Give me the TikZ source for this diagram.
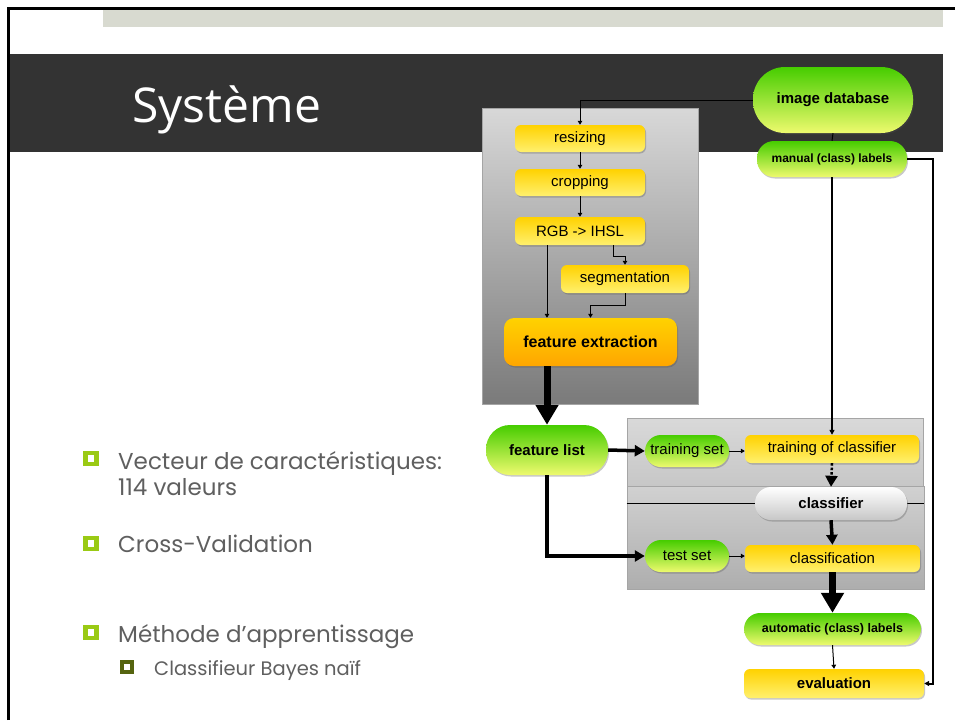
\documentclass[tikz,border=0pt]{standalone}
\usepackage{fontspec}
\setmainfont{Liberation Sans}
\newfontfamily\titrefont{Open Sans}
\newfontfamily\pucefont{Poppins}
\usetikzlibrary{arrows.meta,calc,shadows}
\definecolor{BandeSombre}{RGB}{51,51,51}
\definecolor{BandeClaire}{RGB}{216,218,208}
\definecolor{VertHaut}{RGB}{70,205,0}
\definecolor{VertBas}{RGB}{238,250,110}
\definecolor{JauneHaut}{RGB}{255,210,0}
\definecolor{JauneBas}{RGB}{255,240,110}
\definecolor{OrangeBas}{RGB}{255,166,0}
\definecolor{GrisHaut}{RGB}{216,216,216}
\definecolor{GrisBas}{RGB}{122,122,122}
\definecolor{GrisBord}{RGB}{165,165,165}
\definecolor{GrisTexte}{RGB}{95,95,95}
\definecolor{PuceVerte}{RGB}{154,202,20}
\definecolor{PuceOlive}{RGB}{85,100,15}
\tikzset{
  ombre/.style={drop shadow={shadow xshift=1pt, shadow yshift=-1.5pt, opacity=.3, fill=black!70}},
  etape/.style={top color=JauneHaut, bottom color=JauneBas, rounded corners=6pt, ombre,
                align=center, font=\fontsize{15}{17}\selectfont, inner sep=2pt},
  extraction/.style={top color=JauneHaut, bottom color=OrangeBas, rounded corners=10pt, ombre,
                align=center, font=\bfseries\fontsize{16}{18}\selectfont, inner sep=2pt},
  donnee/.style={top color=VertHaut, bottom color=VertBas, rounded corners=16pt, ombre,
                align=center, font=\fontsize{15}{17}\selectfont, inner sep=2pt},
  modele/.style={top color=white, bottom color=black!22, rounded corners=16pt, ombre,
                align=center, font=\bfseries\fontsize{15}{17}\selectfont, inner sep=2pt},
  panneau/.style={draw=GrisBord, line width=.8pt, inner sep=0pt},
  puce/.style={draw=PuceVerte, fill=white, line width=4.5pt, minimum size=11pt, inner sep=0pt},
  souspuce/.style={draw=PuceOlive, fill=white, line width=4.5pt, minimum size=10pt, inner sep=0pt},
  texte/.style={anchor=base west, text=GrisTexte, inner sep=0pt, font=\pucefont\fontsize{23}{27}\selectfont},
  fine/.style={-{Triangle[length=4pt,width=4.5pt]}, line width=1pt},
  moyen/.style={-{Triangle[length=5pt,width=5pt]}, line width=2pt},
  gros/.style={-{Triangle[length=10pt,width=11pt]}, line width=3.5pt},
  tresgros/.style={-{Triangle[length=20pt,width=22pt]}, line width=7pt},
  pointille/.style={-{Triangle[length=11pt,width=12pt]}, line width=2.5pt, dotted},
}

\begin{document}
\begin{tikzpicture}[x=1pt,y=-1pt]
  \useasboundingbox (0,0) rectangle (955,720);
  \fill[white] (0,0) rectangle (955,720);

  % en-tete de la diapositive
  \fill[BandeClaire] (103,9) rectangle (943,27);
  \fill[BandeSombre] (8,54) rectangle (943,152);
  \draw[line width=3pt] (8.5,720) -- (8.5,8) -- (955,8);
  \node[anchor=base west, text=white, inner sep=0pt, font=\titrefont\fontsize{48}{50}\selectfont] (titre) at (132,122) {Système};

  % liste a puces
  \node[puce] (p1) at (91,458.5) {};
  \node[texte] (t1) at (118,469) {Vecteur de caractéristiques:};
  \node[texte] (t1b) at (118,495) {114 valeurs};
  \node[puce] (p2) at (91,543.5) {};
  \node[texte] (t2) at (118,552) {Cross-Validation};
  \node[puce] (p3) at (91,632.5) {};
  \node[texte] (t3) at (118,642) {Méthode d’apprentissage};
  \node[souspuce] (p4) at (127,667) {};
  \node[texte, font=\pucefont\fontsize{19.5}{22}\selectfont] (t4) at (154,675) {Classifieur Bayes naïf};

  % panneaux gris
  \node[panneau, top color=GrisHaut, bottom color=GrisBas, minimum width=216pt, minimum height=296pt] (pretrait) at (590,256) {};
  \node[panneau, top color=black!15, bottom color=black!22, minimum width=296pt, minimum height=68pt] (apprent) at (775,452) {};
  \node[panneau, top color=black!18, bottom color=black!32, minimum width=297pt, minimum height=103pt] (test) at (775.5,537.5) {};

  \coordinate (ccl) at (831,503.5);
  \draw[line width=1pt] (test.west |- ccl) -- (test.east |- ccl);

  % noeuds
  \node[donnee, font=\bfseries\fontsize{15}{17}\selectfont, rounded corners=32pt, minimum width=160pt, minimum height=66pt] (imgdb) at (833,100) {image database};
  \node[donnee, font=\bfseries\fontsize{12}{14}\selectfont, rounded corners=17pt, minimum width=150pt, minimum height=36pt] (manual) at (832,159) {manual (class) labels};

  \node[etape, minimum width=130pt, minimum height=27pt] (resizing) at (580,138.5) {resizing};
  \node[etape, minimum width=130pt, minimum height=27pt] (cropping) at (580,182.5) {cropping};
  \node[etape, minimum width=130pt, minimum height=28pt] (rgb)      at (580,231) {RGB -> IHSL};
  \node[etape, minimum width=128pt, minimum height=28pt] (seg)      at (625,279) {segmentation};
  \node[extraction, minimum width=173pt, minimum height=48pt] (featext) at (590.5,342) {feature extraction};

  \node[donnee, font=\bfseries\fontsize{15}{17}\selectfont, rounded corners=24pt, minimum width=122pt, minimum height=50pt] (featlist) at (547,450) {feature list};
  \node[donnee, minimum width=84pt, minimum height=32pt] (trainset) at (687,451) {training set};
  \node[etape, minimum width=174pt, minimum height=28pt] (traincl)  at (832,449) {training of classifier};
  \node[modele, minimum width=152pt, minimum height=33pt] (classifier) at (ccl) {classifier};
  \node[donnee, minimum width=84pt, minimum height=32pt] (testset)  at (687,556) {test set};
  \node[etape, minimum width=175pt, minimum height=27pt] (classif)  at (832.5,558.5) {classification};
  \node[donnee, font=\bfseries\fontsize{12.5}{14}\selectfont, minimum width=177pt, minimum height=32pt] (autolab) at (832.5,629) {automatic (class) labels};
  \node[etape, font=\bfseries\fontsize{15}{17}\selectfont, minimum width=180pt, minimum height=29pt] (eval) at (834,683.5) {evaluation};

  % connexions
  \draw[fine] (imgdb.west) -| (resizing.north);
  \draw[line width=1pt] (imgdb.south) -- (manual.north);
  \draw[fine] (resizing.south) -- (cropping.north);
  \draw[fine] (cropping.south) -- (rgb.north);
  \coordinate (rgbg) at ([xshift=-33pt]rgb.south);
  \coordinate (rgbd) at ([xshift=33pt]rgb.south);
  \draw[fine] (rgbg) -- (rgbg |- featext.north);
  \draw[fine] (rgbd) -- ++(0,11) -| (seg.north);
  \draw[fine] (seg.south) -- ++(0,12) -| (featext.north);
  \draw[tresgros] (featlist.north |- featext.south) -- (featlist.north);

  \draw[gros] (featlist.east) -- (trainset.west);
  \draw[gros] (featlist.south) |- (testset.west);
  \draw[fine] (trainset.east) -- (trainset.east -| traincl.west);
  \draw[fine] (testset.east) -- (testset.east -| classif.west);
  \draw[moyen] (manual.south) -- (manual.south |- traincl.north);
  \draw[pointille] (traincl.south) -- (classifier.north);
  \draw[gros] (classifier.south) -- (classif.north);
  \draw[tresgros] (classif.south) -- (autolab.north);
  \draw[fine] (autolab.south) -- (eval.north);
  \draw[moyen] (manual.east) -- ++(26,0) |- (eval.east);

\end{tikzpicture}
\end{document}
